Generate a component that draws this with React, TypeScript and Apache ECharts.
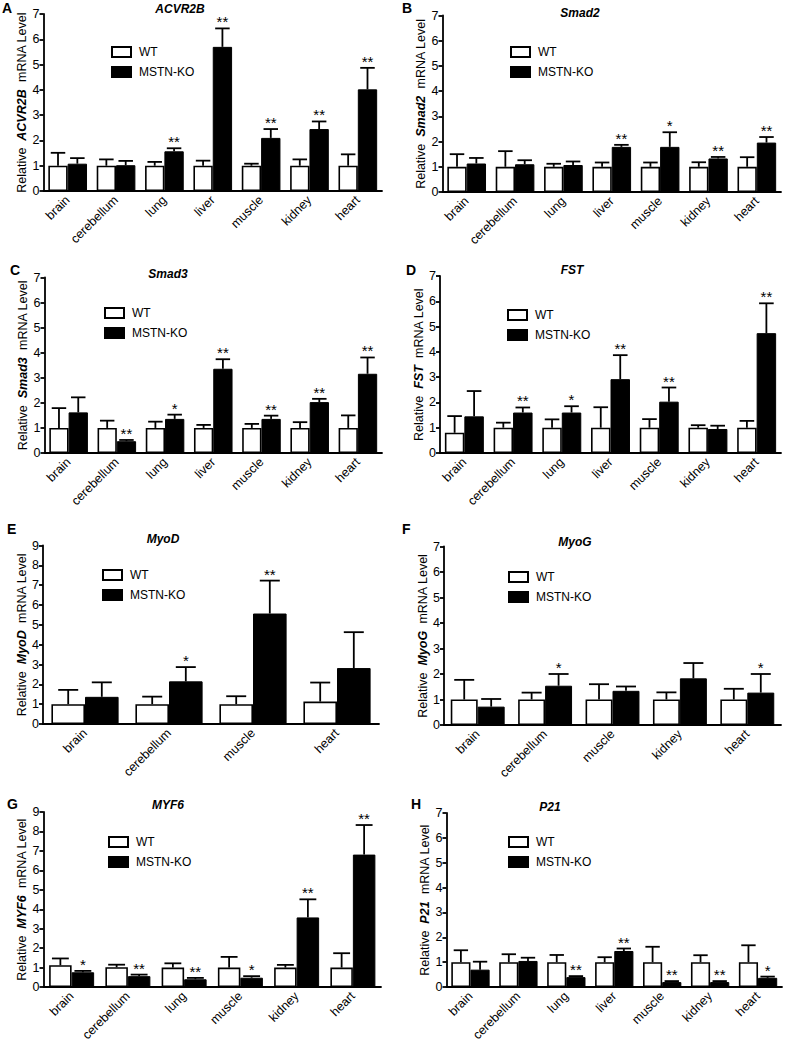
import React, { useEffect, useRef } from "react";
import * as echarts from "echarts";

const FONT = "'Liberation Sans', Arial, Helvetica, sans-serif";

// ---------- data ----------
const cats7 = ["brain", "cerebellum", "lung", "liver", "muscle", "kidney", "heart"];
const catsE = ["brain", "cerebellum", "muscle", "heart"];
const catsF = ["brain", "cerebellum", "muscle", "kidney", "heart"];
const catsG = ["brain", "cerebellum", "lung", "muscle", "kidney", "heart"];

// A: ACVR2B
const wtA = [1, 1, 1, 1, 1, 1, 1];
const wtErrA = [0.51, 0.25, 0.15, 0.2, 0.08, 0.25, 0.45];
const koA = [1.08, 1.02, 1.57, 5.7, 2.1, 2.45, 4.02];
const koErrA = [0.22, 0.17, 0.12, 0.73, 0.35, 0.3, 0.85];
const starsA = ["", "", "**", "**", "**", "**", "**"];

// B: Smad2
const wtB = [1, 1, 1, 1, 1, 1, 1];
const wtErrB = [0.5, 0.62, 0.12, 0.17, 0.17, 0.18, 0.38];
const koB = [1.13, 1.1, 1.07, 1.79, 1.79, 1.33, 1.96];
const koErrB = [0.22, 0.16, 0.14, 0.08, 0.58, 0.06, 0.22];
const starsB = ["", "", "", "**", "*", "**", "**"];

// C: Smad3
const wtC = [1, 1, 1, 1, 1, 1, 1];
const wtErrC = [0.79, 0.29, 0.25, 0.12, 0.16, 0.23, 0.5];
const koC = [1.62, 0.47, 1.36, 3.36, 1.36, 2.03, 3.16];
const koErrC = [0.6, 0.05, 0.17, 0.38, 0.13, 0.13, 0.65];
const starsC = ["", "**", "*", "**", "**", "**", "**"];

// D: FST
const wtD = [0.8, 1, 1, 1, 1, 1, 1];
const wtErrD = [0.66, 0.2, 0.33, 0.81, 0.34, 0.1, 0.27];
const koD = [1.45, 1.6, 1.6, 2.92, 2.03, 0.95, 4.74];
const koErrD = [1.0, 0.2, 0.25, 0.95, 0.56, 0.13, 1.18];
const starsD = ["", "**", "*", "**", "**", "", "**"];

// E: MyoD
const wtE = [1, 1, 1, 1.13];
const wtErrE = [0.72, 0.38, 0.4, 0.96];
const koE = [1.37, 2.15, 5.57, 2.82];
const koErrE = [0.73, 0.72, 1.66, 1.81];
const starsE = ["", "*", "**", ""];

// F: MyoG
const wtF = [1, 1, 1, 1, 1];
const wtErrF = [0.77, 0.27, 0.6, 0.28, 0.42];
const koF = [0.72, 1.54, 1.34, 1.83, 1.27];
const koErrF = [0.3, 0.46, 0.17, 0.6, 0.73];
const starsF = ["", "*", "", "", "*"];

// G: MYF6
const wtG = [1.12, 1.02, 1.0, 1.0, 1.0, 1.0];
const wtErrG = [0.35, 0.13, 0.22, 0.55, 0.14, 0.74];
const koG = [0.76, 0.56, 0.4, 0.48, 3.58, 6.81];
const koErrG = [0.07, 0.08, 0.07, 0.08, 0.93, 1.52];
const starsG = ["*", "**", "**", "*", "**", "**"];

// H: P21
const wtH = [1, 1, 1, 1, 1, 1, 1];
const wtErrH = [0.48, 0.32, 0.29, 0.2, 0.62, 0.28, 0.68];
const koH = [0.7, 1.05, 0.4, 1.45, 0.2, 0.2, 0.37];
const koErrH = [0.32, 0.13, 0.04, 0.1, 0.04, 0.04, 0.05];
const starsH = ["", "", "**", "**", "**", "**", "*"];

const legendNames = ["WT", "MSTN-KO"];

// ---------- layout ----------
type Panel = {
  letter: string;
  gene: string;
  cats: string[];
  wt: number[];
  wtErr: number[];
  ko: number[];
  koErr: number[];
  stars: string[];
  yMax: number;
  g: [number, number, number, number]; // left, top, right, bottom
  leg: [number, number];
  title: [number, number];
  lp: [number, number];
};

const panels: Panel[] = [
  { letter: "A", gene: "ACVR2B", cats: cats7, wt: wtA, wtErr: wtErrA, ko: koA, koErr: koErrA, stars: starsA, yMax: 7,
    g: [43.5, 14, 382, 191], leg: [106, 42], title: [180, 8.5], lp: [2, 8] },
  { letter: "B", gene: "Smad2", cats: cats7, wt: wtB, wtErr: wtErrB, ko: koB, koErr: koErrB, stars: starsB, yMax: 7,
    g: [442.5, 15.5, 781, 192], leg: [505, 42], title: [580, 13], lp: [402, 8] },
  { letter: "C", gene: "Smad3", cats: cats7, wt: wtC, wtErr: wtErrC, ko: koC, koErr: koErrC, stars: starsC, yMax: 7,
    g: [44.5, 277.5, 382, 453], leg: [99, 303], title: [168, 273.5], lp: [10, 270] },
  { letter: "D", gene: "FST", cats: cats7, wt: wtD, wtErr: wtErrD, ko: koD, koErr: koErrD, stars: starsD, yMax: 7,
    g: [440, 276, 781, 453], leg: [502, 305], title: [572, 270], lp: [406, 270] },
  { letter: "E", gene: "MyoD", cats: catsE, wt: wtE, wtErr: wtErrE, ko: koE, koErr: koErrE, stars: starsE, yMax: 9,
    g: [43, 545.5, 379, 724], leg: [97, 565], title: [163, 539], lp: [7, 529] },
  { letter: "F", gene: "MyoG", cats: catsF, wt: wtF, wtErr: wtErrF, ko: koF, koErr: koErrF, stars: starsF, yMax: 7,
    g: [444, 546.5, 781, 725], leg: [503, 567], title: [575, 541.5], lp: [402, 529] },
  { letter: "G", gene: "MYF6", cats: catsG, wt: wtG, wtErr: wtErrG, ko: koG, koErr: koErrG, stars: starsG, yMax: 9,
    g: [43.5, 812, 381, 990], leg: [103, 832], title: [168, 804.5], lp: [7, 804] },
  { letter: "H", gene: "P21", cats: cats7, wt: wtH, wtErr: wtErrH, ko: koH, koErr: koErrH, stars: starsH, yMax: 7,
    g: [446.5, 813, 782, 990], leg: [503, 832], title: [550, 806.5], lp: [411, 804] },
];

const BAR_GAP_CAT = 0.2;

function buildOption() {
  const axisLineStyle = { color: "#000", width: 1.8 };
  const grid = panels.map((p) => ({
    left: p.g[0],
    top: p.g[1],
    width: p.g[2] - p.g[0],
    height: p.g[3] - p.g[1],
    containLabel: false,
  }));
  const xAxis = panels.map((p, i) => ({
    type: "category",
    gridIndex: i,
    data: p.cats,
    axisLine: { lineStyle: axisLineStyle },
    axisTick: { alignWithLabel: true, interval: 0, length: 5, lineStyle: axisLineStyle },
    axisLabel: { interval: 0, rotate: 45, margin: 7, color: "#000", fontSize: 12.5, fontFamily: FONT },
    splitLine: { show: false },
  }));
  const yAxis = panels.map((p, i) => ({
    type: "value",
    gridIndex: i,
    min: 0,
    max: p.yMax,
    interval: 1,
    axisLine: { show: true, lineStyle: axisLineStyle },
    axisTick: { show: true, length: 4, lineStyle: axisLineStyle },
    axisLabel: { margin: 4, color: "#000", fontSize: 12.5, fontFamily: FONT },
    splitLine: { show: false },
    name: `{r|Relative  }{b|${p.gene}}{r|  mRNA Level}`,
    nameLocation: "middle",
    nameGap: 15,
    nameTextStyle: {
      rich: {
        r: { fontSize: 12.5, fontFamily: FONT, color: "#000" },
        b: { fontSize: 12.5, fontFamily: FONT, color: "#000", fontWeight: "bold", fontStyle: "italic" },
      },
    },
  }));

  const series: any[] = [];
  panels.forEach((p, i) => {
    series.push({
      name: "WT",
      type: "bar",
      xAxisIndex: i,
      yAxisIndex: i,
      data: p.wt,
      barGap: "0%",
      barCategoryGap: `${BAR_GAP_CAT * 100}%`,
      itemStyle: { color: "#fff", borderColor: "#000", borderWidth: 1.6 },
      z: 2,
    });
    series.push({
      name: "MSTN-KO",
      type: "bar",
      xAxisIndex: i,
      yAxisIndex: i,
      data: p.ko,
      barGap: "0%",
      barCategoryGap: `${BAR_GAP_CAT * 100}%`,
      itemStyle: { color: "#000", borderColor: "#000", borderWidth: 1 },
      z: 2,
    });
    const errData: number[][] = [];
    p.cats.forEach((_, k) => {
      errData.push([k, p.wt[k], p.wtErr[k], 0]);
      errData.push([k, p.ko[k], p.koErr[k], 1]);
    });
    series.push({
      type: "custom",
      xAxisIndex: i,
      yAxisIndex: i,
      data: errData,
      encode: { x: 0, y: 1 },
      z: 5,
      clip: false,
      silent: true,
      renderItem: (params: any, api: any) => {
        const idx = api.value(0);
        const v = api.value(1);
        const e = api.value(2);
        const grp = api.value(3);
        const base = api.coord([idx, v]);
        const band = api.size([1, 0])[0];
        const bw = (band * (1 - BAR_GAP_CAT)) / 2;
        const x = base[0] + (grp === 0 ? -bw / 2 : bw / 2);
        const yTop = api.coord([idx, v + e])[1];
        const cap = Math.min(bw * 0.75, 20);
        const children: any[] = [
          { type: "line", shape: { x1: x, y1: base[1], x2: x, y2: yTop }, style: { stroke: "#000", lineWidth: 1.8 } },
          { type: "line", shape: { x1: x - cap / 2, y1: yTop, x2: x + cap / 2, y2: yTop }, style: { stroke: "#000", lineWidth: 1.8 } },
        ];
        const star = grp === 1 ? p.stars[idx] : "";
        if (star) {
          children.push({
            type: "text",
            x: x,
            y: yTop + 1,
            style: {
              text: star,
              fill: "#000",
              font: `15px ${FONT}`,
              align: "center",
              verticalAlign: "bottom",
            },
          });
        }
        return { type: "group", children };
      },
    });
  });

  const legend = panels.map((p) => ({
    data: legendNames,
    orient: "vertical",
    left: p.leg[0],
    top: p.leg[1] - 2,
    itemWidth: 19,
    itemHeight: 10,
    itemGap: 6,
    icon: "rect",
    selectedMode: false,
    textStyle: { fontSize: 12, fontFamily: FONT, color: "#000", lineHeight: 14, padding: [0, 0, 0, 3] },
  }));

  const graphic: any[] = [];
  panels.forEach((p) => {
    graphic.push({
      type: "text",
      x: p.title[0],
      y: p.title[1],
      style: {
        text: p.gene,
        font: `italic bold 12px ${FONT}`,
        fill: "#000",
        align: "center",
        verticalAlign: "middle",
        textAlign: "center",
        textVerticalAlign: "middle",
      },
    });
    graphic.push({
      type: "text",
      x: p.lp[0],
      y: p.lp[1],
      style: {
        text: p.letter,
        font: `bold 14px ${FONT}`,
        fill: "#000",
        align: "left",
        verticalAlign: "middle",
        textAlign: "left",
        textVerticalAlign: "middle",
      },
    });
  });

  return {
    animation: false,
    backgroundColor: "#fff",
    textStyle: { fontFamily: FONT },
    grid,
    xAxis,
    yAxis,
    legend,
    series,
    graphic,
  };
}

export default function App() {
  const ref = useRef<HTMLDivElement>(null);
  useEffect(() => {
    if (!ref.current) return;
    const chart = echarts.init(ref.current, undefined, { renderer: "svg" });
    chart.setOption(buildOption() as any);
    return () => chart.dispose();
  }, []);
  return (
    <div
      ref={ref}
      style={{ position: "absolute", left: 0, top: 0, width: 787, height: 1044, background: "#fff" }}
    />
  );
}
